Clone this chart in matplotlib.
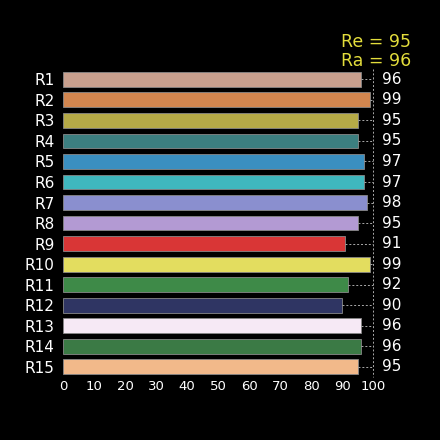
import matplotlib
matplotlib.use("Agg")
import matplotlib.pyplot as plt

labels = [f"R{i}" for i in range(1, 16)]
values = [96, 99, 95, 95, 97, 97, 98, 95, 91, 99, 92, 90, 96, 96, 95]
colors = ["#c9a08e", "#d2864f", "#b5aa47", "#3c7f80", "#3a8fc0", "#3fb7be", "#8a8fcf",
          "#b39ad3", "#d93636", "#e3dd5f", "#3e8a48", "#2f3563", "#f6e9f5", "#3b7a45", "#f2b98a"]

fig = plt.figure(figsize=(4.4, 4.4), dpi=100, facecolor="black")
ax = fig.add_axes([0.143, 0.143, 0.705, 0.70], facecolor="black")
y = list(range(len(labels)))
ax.barh(y, values, color=colors, height=0.72, edgecolor="#888888", linewidth=0.6)
ax.set_ylim(len(labels) - 0.5, -0.5)
ax.set_xlim(0, 100)
ax.set_yticks(y)
ax.set_yticklabels(labels, color="white", fontsize=11)
ax.set_xticks(range(0, 101, 10))
ax.tick_params(axis="x", colors="white", labelsize=9.5, length=0, pad=2)
ax.tick_params(axis="y", length=0, pad=6)
for s in ax.spines.values():
    s.set_visible(False)
for yi, v in zip(y, values):
    ax.plot([v, 100], [yi, yi], ls=(0, (2, 2)), color="#aaaaaa", lw=0.7, clip_on=False)
    ax.text(106, yi, str(v), color="white", fontsize=11, va="center", ha="center", clip_on=False)
ax.plot([100, 100], [-0.5, len(labels) - 0.5], ls=(0, (2, 2)), color="#aaaaaa", lw=0.7, clip_on=False)
fig.text(0.935, 0.905, "Re = 95", color="#e3dd3c", fontsize=12.5, ha="right", va="center")
fig.text(0.935, 0.862, "Ra = 96", color="#e3dd3c", fontsize=12.5, ha="right", va="center")
fig.savefig("out.png", dpi=100, facecolor="black")
